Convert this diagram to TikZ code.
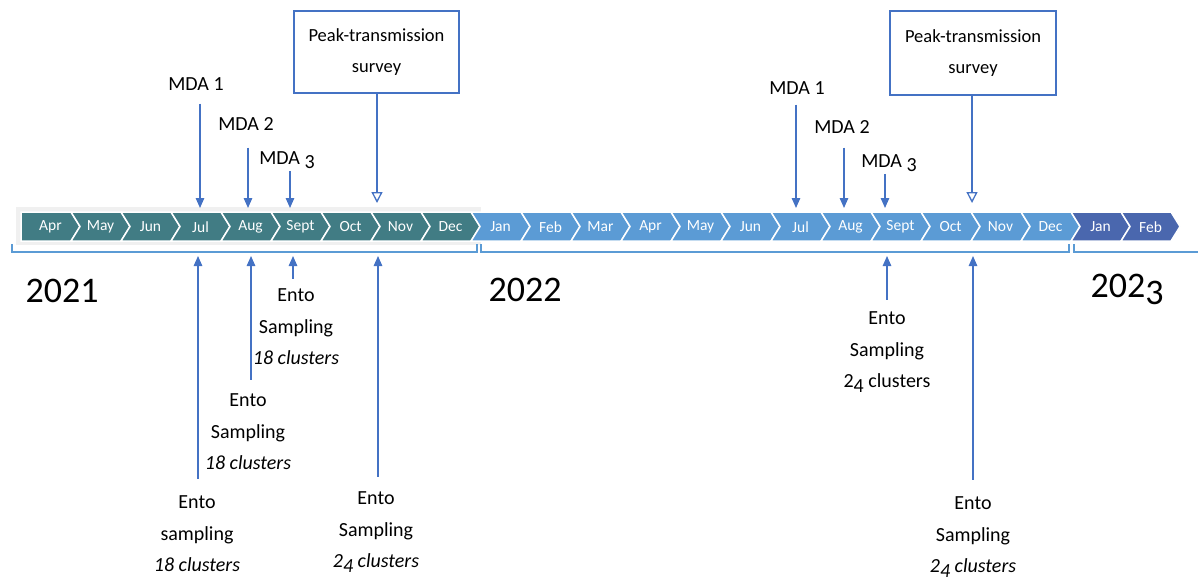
\documentclass[tikz,border=0pt]{standalone}
\usepackage{fontspec}
\setmainfont{Carlito}
\newcommand\dsc[1]{\raisebox{-0.22em}{#1}}
\usetikzlibrary{arrows.meta}
\definecolor{cteal}{HTML}{417C84}
\definecolor{clight}{HTML}{5B9BD5}
\definecolor{cdark}{HTML}{4A67AE}
\definecolor{arrowblue}{HTML}{4472C4}
\definecolor{brk}{HTML}{5B9BD5}
\definecolor{bggray}{HTML}{F0F0F0}
\begin{document}
\begin{tikzpicture}[x=1pt,y=-1pt,
  arr/.style={draw=arrowblue, line width=1.3pt, -{Triangle[length=10pt,width=8.5pt]}},
  oarr/.style={draw=arrowblue, line width=1.3pt, -{Triangle[open,length=11pt,width=11pt,fill=white]}},
  bracket/.style={draw=brk, line width=1.5pt},
  lbl/.style={font=\fontsize{20}{31.5}\selectfont, align=center, inner sep=0pt, text=black},
  yearlbl/.style={font=\fontsize{36}{40}\selectfont, inner sep=0pt, anchor=base, text=black},
  pkbox/.style={draw=arrowblue, line width=1.3pt, minimum width=165pt, minimum height=82pt,
     align=center, inner sep=0pt, font=\fontsize{18.5}{31}\selectfont, text=black},
  month/.style={font=\fontsize{15.5}{17}\selectfont, text=white, inner sep=0pt}
]
\useasboundingbox (0,0) rectangle (1198,581);
% light grey backdrop behind 2021
\fill[bggray] (16,207) rectangle (481,245);
% chevrons
\foreach \i/\nm/\col in {0/Apr/cteal,1/May/cteal,2/Jun/cteal,3/Jul/cteal,4/Aug/cteal,5/Sept/cteal,6/Oct/cteal,7/Nov/cteal,8/Dec/cteal,
  9/Jan/clight,10/Feb/clight,11/Mar/clight,12/Apr/clight,13/May/clight,14/Jun/clight,15/Jul/clight,16/Aug/clight,17/Sept/clight,18/Oct/clight,19/Nov/clight,20/Dec/clight,
  21/Jan/cdark,22/Feb/cdark}{
  \pgfmathsetmacro\xa{21+50*\i}
  \pgfmathsetmacro\nd{\i==0?0:9}
  \fill[\col, draw=white, line width=1.5pt, line join=miter]
    (\xa,212) -- ++(50,0) -- ++(9,14.5) -- ++(-9,14.5) -- ++(-50,0) -- ++(\nd,-14.5) -- cycle;
  \node[month] (m\i) at (\xa+29.5,227) {\nm};
}
% year brackets
\draw[bracket] (12,244) -- (12,252) -- (477,252) -- (477,244);
\draw[bracket] (481,244) -- (481,252) -- (1069,252) -- (1069,244);
\draw[bracket] (1074,244) -- (1074,252) -- (1198,252);
% years
\node[yearlbl] (y21) at (62,302) {2021};
\node[yearlbl] (y22) at (525,301) {2022};
\node[yearlbl] (y23) at (1127,297) {202\dsc{3}};

% ---- top arrows 2021
\coordinate (tA1) at (200,208);
\coordinate (tA2) at (248,208);
\coordinate (tA3) at (290,208);
\coordinate (tP1) at (377,203);
\node[lbl] (mdaA1) at (196,84) {MDA 1};
\node[lbl] (mdaA2) at (246,124) {MDA 2};
\node[lbl] (mdaA3) at (287,160) {MDA \dsc{3}};
\node[pkbox] (pk1) at (376.5,52) {Peak-transmission\\survey};
\draw[arr, shorten <=13pt] (mdaA1.south -| tA1) -- (tA1);
\draw[arr, shorten <=17pt] (mdaA2.south -| tA2) -- (tA2);
\draw[arr, shorten <=2pt] (mdaA3.south -| tA3) -- (tA3);
\draw[oarr] (pk1.south -| tP1) -- (tP1);

% ---- top arrows 2022
\coordinate (tB1) at (796,208);
\coordinate (tB2) at (844,208);
\coordinate (tB3) at (885,208);
\coordinate (tP2) at (972,203);
\node[lbl] (mdaB1) at (797,88) {MDA 1};
\node[lbl] (mdaB2) at (842,127) {MDA 2};
\node[lbl] (mdaB3) at (889,163) {MDA \dsc{3}};
\node[pkbox, minimum width=166pt, minimum height=84pt] (pk2) at (973,53) {Peak-transmission\\survey};
\draw[arr, shorten <=10pt] (mdaB1.south -| tB1) -- (tB1);
\draw[arr, shorten <=14pt] (mdaB2.south -| tB2) -- (tB2);
\draw[arr, shorten <=2pt] (mdaB3.south -| tB3) -- (tB3);
\draw[oarr] (pk2.south -| tP2) -- (tP2);

% ---- bottom arrows 2021
\coordinate (bA1) at (198,256);
\coordinate (bA2) at (251,256);
\coordinate (bA3) at (293,256);
\coordinate (bA4) at (378,256);
\node[lbl] (eA1) at (197,534) {Ento\\sampling\\\textit{18 clusters}};
\node[lbl] (eA2) at (248,432) {Ento\\Sampling\\\textit{18 clusters}};
\node[lbl] (eA3) at (296,327) {Ento\\Sampling\\\textit{18 clusters}};
\node[lbl] (eA4) at (376,532) {Ento\\Sampling\\\textit{2\dsc{4} clusters}};
\draw[arr, shorten <=17pt] (eA1.north -| bA1) -- (bA1);
\draw[arr, shorten <=14pt] (eA2.north -| bA2) -- (bA2);
\draw[arr, shorten <=10pt] (eA3.north -| bA3) -- (bA3);
\draw[arr, shorten <=15pt] (eA4.north -| bA4) -- (bA4);

% ---- bottom arrows 2022
\coordinate (bB1) at (887,256);
\coordinate (bB2) at (973,256);
\node[lbl] (eB1) at (887,352) {Ento\\Sampling\\2\dsc{4} clusters};
\node[lbl] (eB2) at (973,537) {Ento\\Sampling\\\textit{2\dsc{4} clusters}};
\draw[arr, shorten <=12pt] (eB1.north -| bB1) -- (bB1);
\draw[arr, shorten <=17pt] (eB2.north -| bB2) -- (bB2);
\end{tikzpicture}
\end{document}
